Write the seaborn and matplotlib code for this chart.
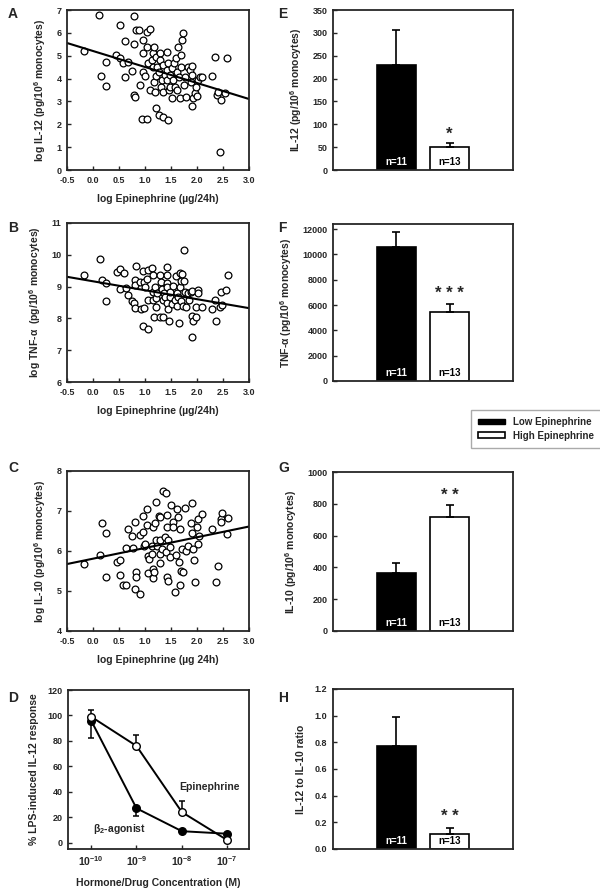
import numpy as np
import pandas as pd
import seaborn as sns
import matplotlib.pyplot as plt
from matplotlib.patches import Patch

sns.set_theme(style="ticks", rc={
    "axes.linewidth": 1.3,
    "xtick.direction": "in",
    "ytick.direction": "in",
    "xtick.major.size": 3,
    "ytick.major.size": 3,
    "xtick.major.width": 1.0,
    "ytick.major.width": 1.0,
    "xtick.major.pad": 4,
    "ytick.major.pad": 4,
    "xtick.labelsize": 6.5,
    "ytick.labelsize": 6.5,
    "axes.labelsize": 7.5,
    "font.weight": "bold",
    "axes.labelweight": "bold",
    "mathtext.fontset": "custom",
    "mathtext.rm": "Liberation Sans:bold",
    "mathtext.bf": "Liberation Sans:bold",
    "mathtext.it": "Liberation Sans:bold",
    "mathtext.default": "bf",
})
plt.rcParams["font.family"] = ["Liberation Sans", "DejaVu Sans"]

# ---- scatter data (log epinephrine vs log cytokine) ----
epi_a = [-0.18, 0.12, 0.16, 0.25, 0.25, 0.51, 0.45, 0.51, 0.57, 0.62, 0.62, 0.68, 0.75, 0.78, 0.80,
         0.79, 0.79, 0.82, 0.89, 0.90, 0.94, 0.96, 0.97, 0.97, 1.00, 1.03, 1.04, 1.10, 1.04, 1.06,
         1.10, 1.13, 1.15, 1.16, 1.17, 1.17, 1.19, 1.21, 1.22, 1.22, 1.24, 1.26, 1.26, 1.28, 1.29,
         1.30, 1.32, 1.34, 1.35, 1.35, 1.38, 1.42, 1.43, 1.43, 1.45, 1.45, 1.47, 1.48, 1.49, 1.51,
         1.52, 1.54, 1.55, 1.57, 1.59, 1.61, 1.62, 1.64, 1.66, 1.67, 1.70, 1.70, 1.72, 1.73, 1.75,
         1.77, 1.79, 1.83, 1.86, 1.88, 1.90, 1.91, 1.93, 1.96, 1.99, 2.01, 2.05, 2.09, 2.00, 2.28,
         2.34, 2.39, 2.41, 2.46, 2.44, 2.53, 2.58, 1.91]
il12 = [5.20, 6.80, 4.10, 4.74, 3.67, 6.34, 5.03, 4.91, 4.69, 5.64, 4.05, 4.74, 4.34, 3.28, 3.18,
        6.73, 5.52, 6.12, 6.12, 3.72, 2.22, 5.13, 5.69, 4.30, 4.11, 2.22, 6.05, 6.17, 5.36, 4.66,
        3.50, 4.81, 5.10, 4.52, 5.39, 3.86, 3.43, 2.70, 4.96, 4.11, 4.52, 2.41, 4.30, 5.10, 4.81,
        3.64, 3.94, 2.33, 3.43, 4.59, 4.15, 4.37, 5.17, 3.94, 2.19, 4.66, 3.50, 4.15, 3.64, 3.13,
        4.45, 3.94, 4.66, 3.64, 4.88, 4.30, 3.50, 5.39, 4.08, 3.13, 4.52, 5.03, 5.69, 5.98, 3.72,
        4.08, 3.21, 4.52, 4.37, 3.86, 2.80, 4.15, 3.13, 3.35, 3.64, 3.94, 4.08, 4.05, 3.24, 4.11,
        4.96, 3.28, 3.43, 3.06, 0.80, 3.35, 4.88, 4.55]

epi_b = [-0.17, 0.13, 0.17, 0.25, 0.25, 0.46, 0.52, 0.59, 0.52, 0.64, 0.68, 0.75, 0.78, 0.80, 0.82,
         0.81, 0.81, 0.90, 0.92, 0.96, 0.98, 0.98, 1.00, 1.03, 1.06, 1.06, 0.96, 1.05, 1.13, 1.15,
         1.15, 1.16, 1.17, 1.19, 1.22, 1.22, 1.24, 1.28, 1.28, 1.30, 1.32, 1.34, 1.35, 1.37, 1.39,
         1.42, 1.42, 1.42, 1.42, 1.43, 1.45, 1.47, 1.48, 1.49, 1.51, 1.54, 1.57, 1.59, 1.61, 1.62,
         1.64, 1.66, 1.67, 1.68, 1.70, 1.70, 1.72, 1.73, 1.75, 1.75, 1.77, 1.79, 1.82, 1.85, 1.88,
         1.90, 1.90, 1.91, 1.93, 1.98, 1.99, 2.01, 2.02, 2.09, 2.28, 2.34, 2.37, 2.44, 2.47, 2.49,
         2.55, 2.60]
tnf = [9.38, 9.87, 9.22, 9.11, 8.56, 9.47, 9.54, 9.42, 8.92, 8.96, 8.74, 8.54, 8.47, 8.32, 9.66,
       9.21, 9.06, 9.16, 8.29, 9.48, 9.14, 8.32, 8.98, 9.24, 9.53, 8.58, 7.77, 7.68, 9.59, 9.35,
       8.82, 8.58, 8.05, 9.00, 8.64, 8.35, 8.79, 9.35, 8.05, 9.14, 8.93, 8.58, 8.05, 8.79, 8.68,
       9.63, 9.38, 9.11, 8.98, 8.47, 8.29, 7.91, 8.68, 8.82, 8.45, 9.03, 8.58, 9.32, 8.79, 8.40,
       8.68, 7.87, 9.42, 8.98, 9.17, 8.54, 9.40, 8.40, 10.16, 9.17, 8.82, 8.35, 8.79, 8.58, 8.82,
       7.42, 8.08, 8.87, 7.93, 8.03, 8.35, 8.89, 8.79, 8.35, 8.29, 8.58, 7.93, 8.35, 8.82, 8.42,
       8.89, 9.35]

epi_c = [-0.17, 0.14, 0.18, 0.25, 0.25, 0.46, 0.52, 0.52, 0.64, 0.68, 0.75, 0.58, 0.64, 0.77, 0.81,
         0.81, 0.82, 0.83, 0.90, 0.90, 0.96, 0.97, 0.98, 1.00, 1.03, 1.03, 1.06, 1.05, 1.07, 1.13,
         1.13, 1.15, 1.15, 1.17, 1.16, 1.19, 1.21, 1.22, 1.24, 1.26, 1.28, 1.29, 1.29, 1.29, 1.32,
         1.35, 1.40, 1.38, 1.40, 1.42, 1.42, 1.43, 1.45, 1.45, 1.48, 1.49, 1.50, 1.53, 1.54, 1.57,
         1.59, 1.61, 1.64, 1.66, 1.67, 1.67, 1.69, 1.72, 1.73, 1.77, 1.79, 1.83, 1.88, 1.90, 1.91,
         1.93, 1.95, 1.96, 2.00, 2.01, 2.02, 2.04, 2.10, 2.29, 2.36, 2.41, 2.46, 2.49, 2.47, 2.58,
         2.60]
il10 = [5.68, 5.91, 6.70, 6.46, 5.36, 5.72, 5.78, 5.39, 6.08, 6.54, 6.37, 5.16, 5.15, 6.08, 6.73,
        5.05, 5.47, 5.35, 4.93, 6.39, 6.87, 6.47, 6.12, 6.17, 7.04, 6.64, 5.87, 5.46, 5.80, 6.12,
        5.93, 5.56, 5.32, 5.47, 6.59, 6.70, 6.27, 7.23, 6.12, 6.87, 6.84, 6.27, 5.93, 5.70, 6.06,
        7.50, 7.44, 6.35, 5.97, 6.59, 5.36, 6.89, 5.25, 6.27, 5.85, 6.10, 7.15, 6.73, 6.60, 4.97,
        5.89, 7.06, 6.85, 5.72, 6.56, 5.15, 5.51, 6.06, 5.47, 7.08, 6.00, 6.12, 6.70, 7.21, 6.44,
        6.06, 5.77, 5.22, 6.60, 6.79, 6.17, 6.37, 6.92, 6.56, 5.22, 5.63, 6.81, 6.94, 6.73, 6.42,
        6.83]

# ---- dose response (panel D) ----
conc = [1e-10, 1e-9, 1e-8, 1e-7]
epi_resp = [99, 76, 24, 2]
epi_sem = [5, 9, 9, 0]
b2_resp = [96, 27, 9, 7]
b2_sem = [14, 6, 1.5, 0]

# ---- group bars (panels E-H) ----
groups = ["Low Epinephrine", "High Epinephrine"]
n_labels = ["n=11", "n=13"]
il12_mean = [230, 50]
il12_sem = [77, 9]
tnf_mean = [10600, 5450]
tnf_sem = [1200, 650]
il10_mean = [365, 715]
il10_sem = [60, 80]
ratio_mean = [0.77, 0.11]
ratio_sem = [0.22, 0.05]

W, H = 600, 892
fig = plt.figure(figsize=(W / 100, H / 100), dpi=100)


def px_axes(x0, y0, x1, y1):
    return fig.add_axes([x0 / W, 1 - y1 / H, (x1 - x0) / W, (y1 - y0) / H])


def scatter_panel(ax, x, y, ylim, yticks, ylabel, xlabel):
    ax.set_xlim(-0.5, 3.0)
    ax.set_ylim(*ylim)
    sns.regplot(x=np.array(x), y=np.array(y), ax=ax, ci=None, truncate=False,
                scatter_kws=dict(s=24, facecolors="white", edgecolors="black", linewidths=0.9, alpha=1),
                line_kws=dict(color="black", lw=1.5))
    ax.set_xlim(-0.5, 3.0)
    ax.set_xticks(np.arange(-0.5, 3.01, 0.5))
    ax.set_xticklabels([f"{v:.1f}" for v in np.arange(-0.5, 3.01, 0.5)])
    ax.set_yticks(yticks)
    ax.set_ylabel(ylabel, labelpad=6)
    ax.set_xlabel(xlabel, labelpad=7)


axA = px_axes(67, 10, 249, 170)
scatter_panel(axA, epi_a, il12, (0, 7), range(0, 8), "log IL-12 (pg/10$^6$ monocytes)",
              "log Epinephrine (µg/24h)")
axB = px_axes(67, 223, 249, 382)
scatter_panel(axB, epi_b, tnf, (6, 11), range(6, 12), "log TNF-α  (pg/10$^6$ monocytes)",
              "log Epinephrine (µg/24h)")
axC = px_axes(67, 471, 249, 631)
scatter_panel(axC, epi_c, il10, (4, 8), range(4, 9), "log IL-10 (pg/10$^6$ monocytes)",
              "log Epinephrine (µg 24h)")

# panel D
axD = px_axes(68, 690, 249, 849)
dose = pd.DataFrame({"conc": conc * 2, "resp": epi_resp + b2_resp,
                     "agent": ["Epinephrine"] * 4 + ["b2"] * 4})
sns.lineplot(data=dose, x="conc", y="resp", hue="agent", palette=["black", "black"],
             legend=False, lw=1.4, ax=axD)
axD.errorbar(conc, epi_resp, yerr=[np.zeros(4), epi_sem], fmt="none", ecolor="black",
             elinewidth=1.1, capsize=2.5, capthick=1.1, zorder=2)
axD.errorbar(conc, b2_resp, yerr=[b2_sem, np.zeros(4)], fmt="none", ecolor="black",
             elinewidth=1.1, capsize=2.5, capthick=1.1, zorder=2)
axD.scatter(conc, b2_resp, s=30, color="black", zorder=4)
axD.scatter(conc, epi_resp, s=30, facecolor="white", edgecolor="black", linewidths=1, zorder=5)
axD.set_xscale("log")
axD.set_xlim(10 ** -10.51, 10 ** -6.52)
axD.set_ylim(-5, 120)
axD.set_xticks(conc)
axD.set_xticklabels([r"$10^{-10}$", r"$10^{-9}$", r"$10^{-8}$", r"$10^{-7}$"], fontsize=7.5)
axD.minorticks_off()
axD.set_yticks(range(0, 121, 20))
axD.set_xlabel("Hormone/Drug Concentration (M)", labelpad=7)
axD.set_ylabel("% LPS-induced IL-12 response", labelpad=6)
axD.text(4e-8, 44, "Epinephrine", fontsize=7.5, fontweight="bold", ha="center", va="center")
axD.text(4.2e-10, 10.5, r"β$_2$-agonist", fontsize=7.5, fontweight="bold", ha="center", va="center")


def bar_panel(ax, means, sems, ylim, yticks, ylabel, stars, star_y):
    sns.barplot(x=groups, y=means, hue=groups, palette=["black", "white"], edgecolor="black",
                linewidth=1.2, width=0.73, legend=False, ax=ax)
    ax.errorbar([0, 1], means, yerr=[np.zeros(2), sems], fmt="none", ecolor="black",
                elinewidth=1.2, capsize=3, capthick=1.2)
    ax.set_xlim(-1.19, 2.19)
    ax.set_ylim(*ylim)
    ax.set_yticks(yticks)
    ax.set_xticks([])
    ax.set_ylabel(ylabel, labelpad=6)
    for i, lab in enumerate(n_labels):
        ax.text(i, ylim[1] * 0.05, lab, ha="center", va="center", fontsize=7, fontweight="bold",
                color="white" if i == 0 else "black")
    ax.text(1, star_y, stars, ha="center", va="center", fontsize=12, fontweight="bold")


axE = px_axes(333, 10, 513, 170)
bar_panel(axE, il12_mean, il12_sem, (0, 350), range(0, 351, 50), "IL-12 (pg/10$^6$ monocytes)",
          "*", 78)
axF = px_axes(333, 224, 513, 381)
bar_panel(axF, tnf_mean, tnf_sem, (0, 12400), range(0, 12001, 2000), "TNF-α (pg/10$^6$ monocytes)",
          "* * *", 6900)
axG = px_axes(333, 472, 513, 631)
bar_panel(axG, il10_mean, il10_sem, (0, 1000), range(0, 1001, 200), "IL-10 (pg/10$^6$ monocytes)",
          "* *", 855)
axH = px_axes(333, 689, 513, 849)
bar_panel(axH, ratio_mean, ratio_sem, (0, 1.2), np.round(np.arange(0, 1.21, 0.2), 1),
          "IL-12 to IL-10 ratio", "* *", 0.245)
axH.set_yticklabels([f"{v:.1f}" for v in np.arange(0, 1.21, 0.2)])

leg = fig.legend(handles=[Patch(facecolor="black", edgecolor="black", label="Low Epinephrine"),
                          Patch(facecolor="white", edgecolor="black", lw=1.2, label="High Epinephrine")],
                 loc="upper left", bbox_to_anchor=(466 / W, 1 - 405 / H), fancybox=False,
                 framealpha=1, edgecolor="#aaaaaa", fontsize=7, handlelength=2.8,
                 handleheight=0.45, borderpad=0.75, labelspacing=0.35)
for t in leg.get_texts():
    t.set_fontweight("bold")

for lab, x, y in [("A", 8, 14), ("B", 8, 228), ("C", 8, 468), ("D", 8, 698),
                  ("E", 278, 14), ("F", 278, 228), ("G", 278, 468), ("H", 278, 698)]:
    fig.text(x / W, 1 - y / H, lab, fontsize=10, fontweight="bold", va="center")

fig.savefig("out.png", dpi=100)
